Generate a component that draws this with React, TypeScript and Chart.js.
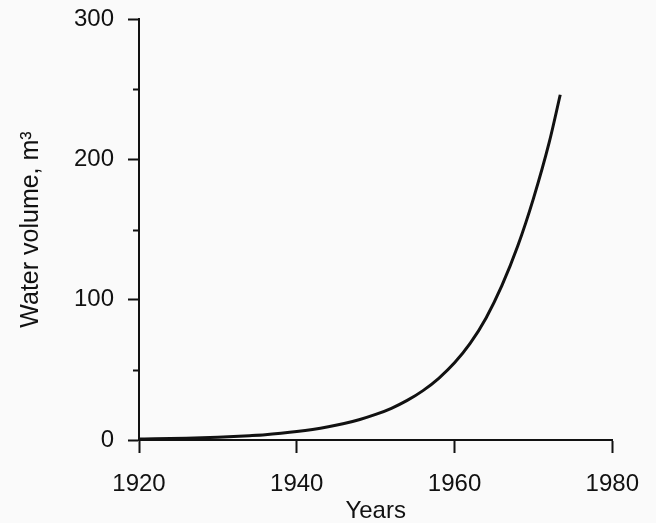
import React, { useEffect, useRef } from "react";
import { Chart, registerables } from "chart.js";

Chart.register(...registerables);

const YEARS = [1920, 1922, 1924, 1926, 1928, 1930, 1932, 1934, 1936, 1938, 1940, 1942, 1944, 1946, 1948, 1950, 1952, 1954, 1956, 1958, 1960, 1962, 1964, 1966, 1968, 1970, 1972, 1973.4];
const VOLUMES = [0.7, 0.85, 1.05, 1.3, 1.6, 2.0, 2.5, 3.1, 3.8, 4.8, 6.0, 7.5, 9.4, 11.7, 14.6, 18.2, 22.6, 28.2, 35.2, 44, 55, 69, 87, 110, 138, 172, 212, 246];
const X_MIN = 1920;
const X_MAX = 1980;
const X_STEP = 20;
const Y_MIN = 0;
const Y_MAX = 300;
const Y_STEP = 100;
const MINOR_Y_TICKS = [50, 150, 250];
const X_TITLE = "Years";
const Y_TITLE = "Water volume, m³";

const INK = "#111111";
const FONT_FAMILY = "'Liberation Sans', Arial, sans-serif";

const minorTicks = {
  id: "minorTicks",
  afterDraw(chart: any) {
    const y = chart.scales.y;
    const ctx = chart.ctx;
    ctx.save();
    ctx.strokeStyle = INK;
    ctx.lineWidth = 2;
    for (const v of MINOR_Y_TICKS) {
      const py = Math.round(y.getPixelForValue(v)) + 0.5;
      ctx.beginPath();
      ctx.moveTo(y.right - 6, py);
      ctx.lineTo(y.right, py);
      ctx.stroke();
    }
    ctx.restore();
  },
};

const paper = {
  id: "paper",
  beforeDraw(chart: any) {
    const ctx = chart.ctx;
    ctx.save();
    ctx.fillStyle = "#fafafa";
    ctx.fillRect(0, 0, chart.width, chart.height);
    ctx.restore();
  },
};

export default function App() {
  const ref = useRef<HTMLCanvasElement>(null);
  useEffect(() => {
    if (!ref.current) return;
    const data = YEARS.map((x, i) => ({ x, y: VOLUMES[i] }));
    const chart = new Chart(ref.current, {
      type: "line",
      data: {
        datasets: [
          {
            data,
            borderColor: INK,
            borderWidth: 3,
            pointRadius: 0,
            fill: false,
            cubicInterpolationMode: "monotone",
          },
        ],
      },
      options: {
        animation: false,
        responsive: false,
        layout: { padding: { left: 0, top: 19, right: 43, bottom: 0 } },
        plugins: { legend: { display: false }, tooltip: { enabled: false } },
        scales: {
          x: {
            type: "linear",
            min: X_MIN,
            max: X_MAX,
            ticks: {
              stepSize: X_STEP,
              color: INK,
              padding: 17,
              maxRotation: 0,
              font: { family: FONT_FAMILY, size: 24 },
              callback: (v: any) => String(v),
            },
            grid: { drawOnChartArea: false, tickLength: 13, tickWidth: 2, tickColor: INK },
            border: { display: true, color: INK, width: 2 },
            title: {
              display: true,
              text: X_TITLE,
              color: INK,
              font: { family: FONT_FAMILY, size: 24, lineHeight: 1 },
              padding: { top: 0, bottom: 0 },
            },
            afterFit: (s: any) => {
              s.height = 83;
            },
          },
          y: {
            type: "linear",
            min: Y_MIN,
            max: Y_MAX,
            ticks: {
              stepSize: Y_STEP,
              color: INK,
              padding: 14,
              font: { family: FONT_FAMILY, size: 24 },
            },
            grid: { drawOnChartArea: false, tickLength: 11, tickWidth: 2, tickColor: INK },
            border: { display: true, color: INK, width: 2 },
            title: {
              display: true,
              text: Y_TITLE,
              color: INK,
              font: { family: FONT_FAMILY, size: 25 },
              padding: { top: 16, bottom: 0 },
            },
            afterFit: (s: any) => {
              s.width = 139;
              s.paddingTop = 0;
              s.paddingBottom = 0;
            },
          },
        },
      },
      plugins: [paper, minorTicks],
    });
    return () => chart.destroy();
  }, []);
  return (
    <div style={{ position: "fixed", left: 0, top: 0, width: 656, height: 523, background: "#fafafa" }}>
      <canvas ref={ref} width={656} height={523} style={{ width: 656, height: 523, display: "block" }} />
    </div>
  );
}
